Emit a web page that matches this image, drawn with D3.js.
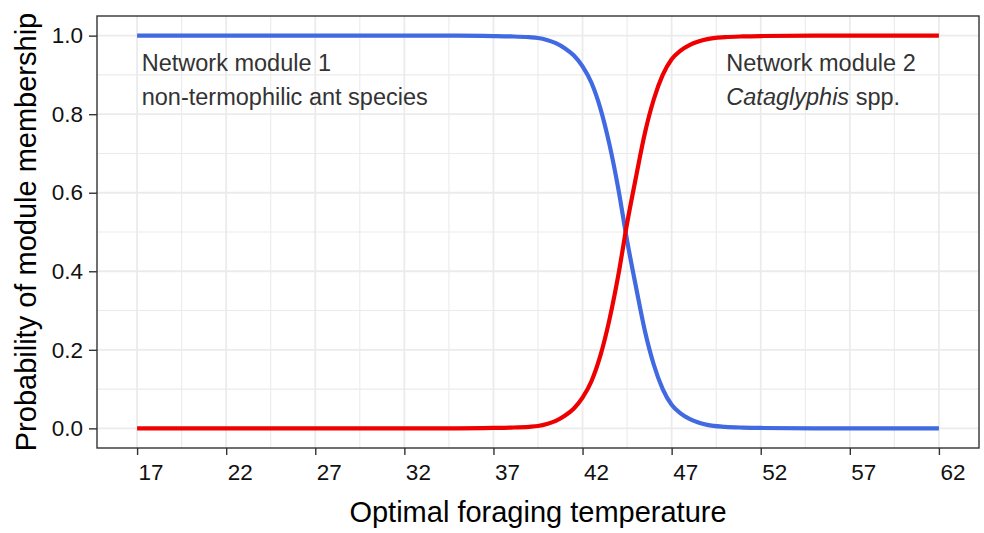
<!DOCTYPE html>
<html>
<head>
<meta charset="utf-8">
<script src="https://cdn.jsdelivr.net/npm/d3@7"></script>
<style>
  body { margin: 0; background: #fff; }
  text { font-family: "Liberation Sans", Arial, sans-serif; }
</style>
</head>
<body>
<svg id="chart" width="984" height="533"></svg>
<script>
// data
const temperature = [17, 30, 35, 37, 38, 39, 39.5, 40, 40.5, 41, 41.5, 42, 42.5, 43, 43.5, 44, 44.5, 45, 45.5, 46, 46.5, 47, 47.5, 48, 48.5, 49, 50, 51, 52, 55, 62];
const module1 = [1, 1, 1, 0.999, 0.998, 0.996, 0.994, 0.989, 0.981, 0.968, 0.950, 0.922, 0.880, 0.815, 0.725, 0.612, 0.478, 0.360, 0.248, 0.162, 0.100, 0.060, 0.038, 0.024, 0.015, 0.009, 0.004, 0.002, 0.001, 0, 0];
const module2 = [0, 0, 0, 0.001, 0.002, 0.004, 0.006, 0.011, 0.019, 0.032, 0.050, 0.078, 0.120, 0.185, 0.275, 0.388, 0.522, 0.640, 0.752, 0.838, 0.900, 0.940, 0.962, 0.976, 0.985, 0.991, 0.996, 0.998, 0.999, 1, 1];
const xTicks = [17, 22, 27, 32, 37, 42, 47, 52, 57, 62];
const yTicks = [0, 0.2, 0.4, 0.6, 0.8, 1.0];

const width = 984, height = 533;
const margin = { top: 16, right: 5, bottom: 85, left: 97 };
const tickFont = 22.5;

const svg = d3.select("#chart");

// ggplot style 5% expansion
const x = d3.scaleLinear()
    .domain([17 - 2.25, 62 + 2.25])
    .range([margin.left, width - margin.right]);
const y = d3.scaleLinear()
    .domain([-0.05, 1.05])
    .range([height - margin.bottom, margin.top]);

const xMinor = xTicks.slice(0, -1).map(d => d + 2.5);
const yMinor = yTicks.slice(0, -1).map(d => d + 0.1);

//------------------GRID------------------
const grid = svg.append("g").attr("stroke", "#ebebeb");
grid.selectAll(".xminor").data(xMinor).join("line")
    .attr("class", "xminor")
    .attr("x1", d => x(d)).attr("x2", d => x(d))
    .attr("y1", y.range()[0]).attr("y2", y.range()[1])
    .attr("stroke-width", 1.1);
grid.selectAll(".yminor").data(yMinor).join("line")
    .attr("class", "yminor")
    .attr("y1", d => y(d)).attr("y2", d => y(d))
    .attr("x1", x.range()[0]).attr("x2", x.range()[1])
    .attr("stroke-width", 1.1);
grid.selectAll(".xmajor").data(xTicks).join("line")
    .attr("class", "xmajor")
    .attr("x1", d => x(d)).attr("x2", d => x(d))
    .attr("y1", y.range()[0]).attr("y2", y.range()[1])
    .attr("stroke-width", 1.8);
grid.selectAll(".ymajor").data(yTicks).join("line")
    .attr("class", "ymajor")
    .attr("y1", d => y(d)).attr("y2", d => y(d))
    .attr("x1", x.range()[0]).attr("x2", x.range()[1])
    .attr("stroke-width", 1.8);

//------------------LINES------------------
const line = (vals) => d3.line()
    .x((d, i) => x(temperature[i]))
    .y(d => y(d))
    .curve(d3.curveMonotoneX)(vals);

svg.append("path")
    .attr("d", line(module1))
    .attr("fill", "none")
    .attr("stroke", "#4169e1")
    .attr("stroke-width", 4.2);

svg.append("path")
    .attr("d", line(module2))
    .attr("fill", "none")
    .attr("stroke", "#ee0000")
    .attr("stroke-width", 4.2);

//------------------ANNOTATIONS------------------
const ann = svg.append("g")
    .attr("font-size", "23.5px")
    .attr("fill", "#333");
ann.append("text").attr("x", x(17.26)).attr("y", y(0.91)).text("Network module 1");
ann.append("text").attr("x", x(17.26)).attr("y", y(0.823)).text("non-termophilic ant species");
ann.append("text").attr("x", x(50.07)).attr("y", y(0.91)).text("Network module 2");
const t2 = ann.append("text").attr("x", x(50.07)).attr("y", y(0.823));
t2.append("tspan").attr("font-style", "italic").text("Cataglyphis");
t2.append("tspan").text(" spp.");

//------------------PANEL BORDER------------------
svg.append("rect")
    .attr("x", x.range()[0]).attr("y", y.range()[1])
    .attr("width", x.range()[1] - x.range()[0])
    .attr("height", y.range()[0] - y.range()[1])
    .attr("fill", "none")
    .attr("stroke", "#333")
    .attr("stroke-width", 1.4);

//------------------AXES------------------
// x tick labels sit just right of their tick, as in the original
const xAxis = svg.append("g")
    .attr("transform", `translate(0,${height - margin.bottom})`)
    .call(d3.axisBottom(x).tickValues(xTicks).tickSize(7).tickSizeOuter(0).tickPadding(9));
xAxis.select(".domain").remove();
xAxis.selectAll(".tick line").attr("stroke", "#333").attr("stroke-width", 1.4);
xAxis.selectAll(".tick text")
    .attr("fill", "#111")
    .attr("x", 1)
    .attr("text-anchor", "start")
    .style("font-size", tickFont + "px")
    .style("font-family", "'Liberation Sans', Arial, sans-serif");

const yAxis = svg.append("g")
    .attr("transform", `translate(${margin.left},0)`)
    .call(d3.axisLeft(y).tickValues(yTicks).tickFormat(d3.format(".1f")).tickSize(8).tickSizeOuter(0).tickPadding(6));
yAxis.select(".domain").remove();
yAxis.selectAll(".tick line").attr("stroke", "#333").attr("stroke-width", 1.4);
yAxis.selectAll(".tick text")
    .attr("fill", "#111")
    .style("font-size", tickFont + "px")
    .style("font-family", "'Liberation Sans', Arial, sans-serif");

// axis titles
svg.append("text")
    .attr("x", (x.range()[0] + x.range()[1]) / 2)
    .attr("y", 522)
    .attr("text-anchor", "middle")
    .attr("font-size", "29px")
    .attr("fill", "#000")
    .text("Optimal foraging temperature");

svg.append("text")
    .attr("transform", `translate(36,${(y.range()[0] + y.range()[1]) / 2}) rotate(-90)`)
    .attr("text-anchor", "middle")
    .attr("font-size", "29px")
    .attr("fill", "#000")
    .text("Probability of module membership");
</script>
</body>
</html>
